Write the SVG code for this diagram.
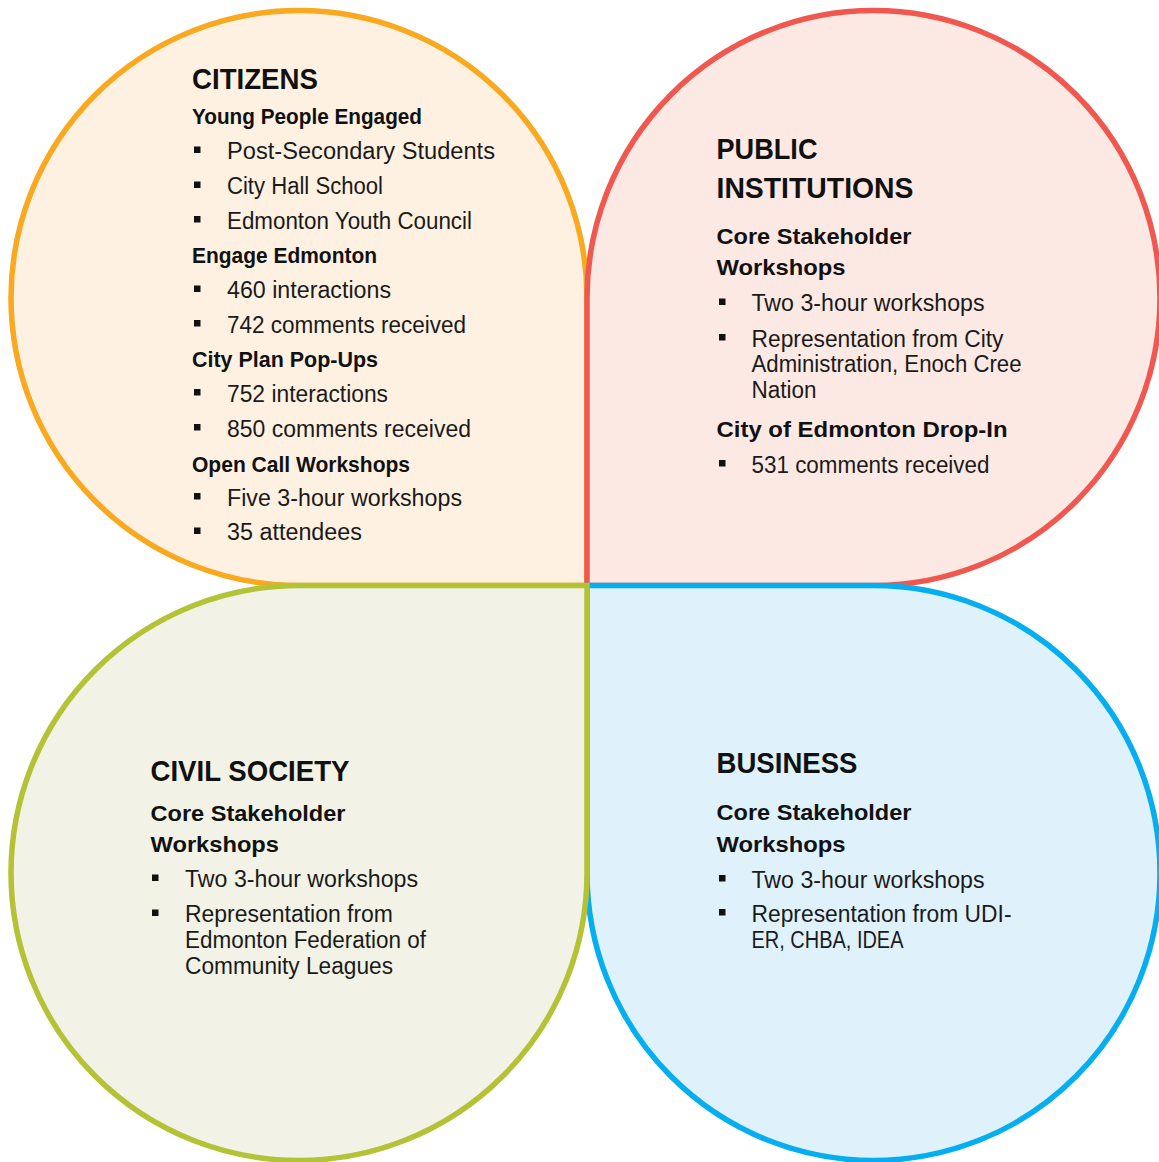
<svg xmlns="http://www.w3.org/2000/svg" width="1159" height="1162" viewBox="0 0 1159 1162">
<style>
.petal{stroke-width:5.5;stroke-linejoin:miter}
.t{font-family:"Liberation Sans",Arial,sans-serif;font-weight:bold;font-size:29.5px;fill:#111}
.h{font-family:"Liberation Sans",Arial,sans-serif;font-weight:bold;font-size:22.5px;fill:#111}
.b{font-family:"Liberation Sans",Arial,sans-serif;font-size:23px;fill:#1a1a1a}
.sq{fill:#111}
</style>
<rect width="1159" height="1162" fill="#ffffff"/>
<g id="citizens">
<path class="petal" fill="#FEF1E2" stroke="#F8A91F" d="M587,298 V585.5 H299 A288,287.5 0 0 1 11,298 A288,287.5 0 0 1 299,10.5 A288,287.5 0 0 1 587,298 Z"/>
</g>
<g id="public-institutions">
<path class="petal" fill="#FDE9E4" stroke="#F0584F" d="M873.5,585.5 H587 V298 A286.5,287.5 0 0 1 873.5,10.5 A286.5,287.5 0 0 1 1160,298 A286.5,287.5 0 0 1 873.5,585.5 Z"/>
</g>
<g id="business">
<path class="petal" fill="#DFF1FB" stroke="#05AEEF" d="M587,873 V585.5 H873.5 A286.5,287.5 0 0 1 1160,873 A286.5,287.5 0 0 1 873.5,1160.5 A286.5,287.5 0 0 1 587,873 Z"/>
</g>
<g id="civil-society">
<path class="petal" fill="#F2F3E6" stroke="#B4C236" d="M299,585.5 H587 V873 A288,287.5 0 0 1 299,1160.5 A288,287.5 0 0 1 11,873 A288,287.5 0 0 1 299,585.5 Z"/>
</g>
<g id="connectors"></g>

<g id="citizens-text">
<text class="t" x="192" y="89" textLength="126" lengthAdjust="spacingAndGlyphs">CITIZENS</text>
<text class="h" x="192" y="124" textLength="230" lengthAdjust="spacingAndGlyphs">Young People Engaged</text>
<rect class="sq" x="194" y="146.5" width="6.5" height="6.5"/>
<text class="b" x="227" y="159" textLength="268" lengthAdjust="spacingAndGlyphs">Post-Secondary Students</text>
<rect class="sq" x="194" y="181.5" width="6.5" height="6.5"/>
<text class="b" x="227" y="194" textLength="156" lengthAdjust="spacingAndGlyphs">City Hall School</text>
<rect class="sq" x="194" y="216" width="6.5" height="6.5"/>
<text class="b" x="227" y="228.5" textLength="245" lengthAdjust="spacingAndGlyphs">Edmonton Youth Council</text>
<text class="h" x="192" y="262.5" textLength="185" lengthAdjust="spacingAndGlyphs">Engage Edmonton</text>
<rect class="sq" x="194" y="285.5" width="6.5" height="6.5"/>
<text class="b" x="227" y="298" textLength="164" lengthAdjust="spacingAndGlyphs">460 interactions</text>
<rect class="sq" x="194" y="320" width="6.5" height="6.5"/>
<text class="b" x="227" y="332.5" textLength="239" lengthAdjust="spacingAndGlyphs">742 comments received</text>
<text class="h" x="192" y="367" textLength="186" lengthAdjust="spacingAndGlyphs">City Plan Pop-Ups</text>
<rect class="sq" x="194" y="389" width="6.5" height="6.5"/>
<text class="b" x="227" y="401.5" textLength="161" lengthAdjust="spacingAndGlyphs">752 interactions</text>
<rect class="sq" x="194" y="424" width="6.5" height="6.5"/>
<text class="b" x="227" y="436.5" textLength="244" lengthAdjust="spacingAndGlyphs">850 comments received</text>
<text class="h" x="192" y="471.5" textLength="218" lengthAdjust="spacingAndGlyphs">Open Call Workshops</text>
<rect class="sq" x="194" y="493" width="6.5" height="6.5"/>
<text class="b" x="227" y="505.5" textLength="235" lengthAdjust="spacingAndGlyphs">Five 3-hour workshops</text>
<rect class="sq" x="194" y="527.5" width="6.5" height="6.5"/>
<text class="b" x="227" y="540" textLength="135" lengthAdjust="spacingAndGlyphs">35 attendees</text>
</g>

<g id="public-institutions-text">
<text class="t" x="716.5" y="159" textLength="101" lengthAdjust="spacingAndGlyphs">PUBLIC</text>
<text class="t" x="716.5" y="198" textLength="197" lengthAdjust="spacingAndGlyphs">INSTITUTIONS</text>
<text class="h" x="716.5" y="244" textLength="195" lengthAdjust="spacingAndGlyphs">Core Stakeholder</text>
<text class="h" x="716.5" y="275" textLength="129" lengthAdjust="spacingAndGlyphs">Workshops</text>
<rect class="sq" x="719" y="298.5" width="6.5" height="6.5"/>
<text class="b" x="751.5" y="311" textLength="233" lengthAdjust="spacingAndGlyphs">Two 3-hour workshops</text>
<rect class="sq" x="719" y="334" width="6.5" height="6.5"/>
<text class="b" x="751.5" y="346.5" textLength="252" lengthAdjust="spacingAndGlyphs">Representation from City</text>
<text class="b" x="751.5" y="372" textLength="270" lengthAdjust="spacingAndGlyphs">Administration, Enoch Cree</text>
<text class="b" x="751.5" y="398" textLength="65" lengthAdjust="spacingAndGlyphs">Nation</text>
<text class="h" x="716.5" y="437" textLength="291" lengthAdjust="spacingAndGlyphs">City of Edmonton Drop-In</text>
<rect class="sq" x="719" y="460" width="6.5" height="6.5"/>
<text class="b" x="751.5" y="472.5" textLength="238" lengthAdjust="spacingAndGlyphs">531 comments received</text>
</g>

<g id="civil-society-text">
<text class="t" x="150.5" y="780.5" textLength="199" lengthAdjust="spacingAndGlyphs">CIVIL SOCIETY</text>
<text class="h" x="150.5" y="820.5" textLength="195" lengthAdjust="spacingAndGlyphs">Core Stakeholder</text>
<text class="h" x="150.5" y="851.5" textLength="128.5" lengthAdjust="spacingAndGlyphs">Workshops</text>
<rect class="sq" x="152" y="874.5" width="6.5" height="6.5"/>
<text class="b" x="185" y="887" textLength="233" lengthAdjust="spacingAndGlyphs">Two 3-hour workshops</text>
<rect class="sq" x="152" y="909.5" width="6.5" height="6.5"/>
<text class="b" x="185" y="922" textLength="208" lengthAdjust="spacingAndGlyphs">Representation from</text>
<text class="b" x="185" y="948" textLength="241" lengthAdjust="spacingAndGlyphs">Edmonton Federation of</text>
<text class="b" x="185" y="974" textLength="208" lengthAdjust="spacingAndGlyphs">Community Leagues</text>
</g>

<g id="business-text">
<text class="t" x="716.5" y="773" textLength="141" lengthAdjust="spacingAndGlyphs">BUSINESS</text>
<text class="h" x="716.5" y="820" textLength="195" lengthAdjust="spacingAndGlyphs">Core Stakeholder</text>
<text class="h" x="716.5" y="851.5" textLength="129" lengthAdjust="spacingAndGlyphs">Workshops</text>
<rect class="sq" x="719" y="875" width="6.5" height="6.5"/>
<text class="b" x="751.5" y="887.5" textLength="233" lengthAdjust="spacingAndGlyphs">Two 3-hour workshops</text>
<rect class="sq" x="719" y="909" width="6.5" height="6.5"/>
<text class="b" x="751.5" y="921.5" textLength="260" lengthAdjust="spacingAndGlyphs">Representation from UDI-</text>
<text class="b" x="751.5" y="948" textLength="152" lengthAdjust="spacingAndGlyphs">ER, CHBA, IDEA</text>
</g>
</svg>
